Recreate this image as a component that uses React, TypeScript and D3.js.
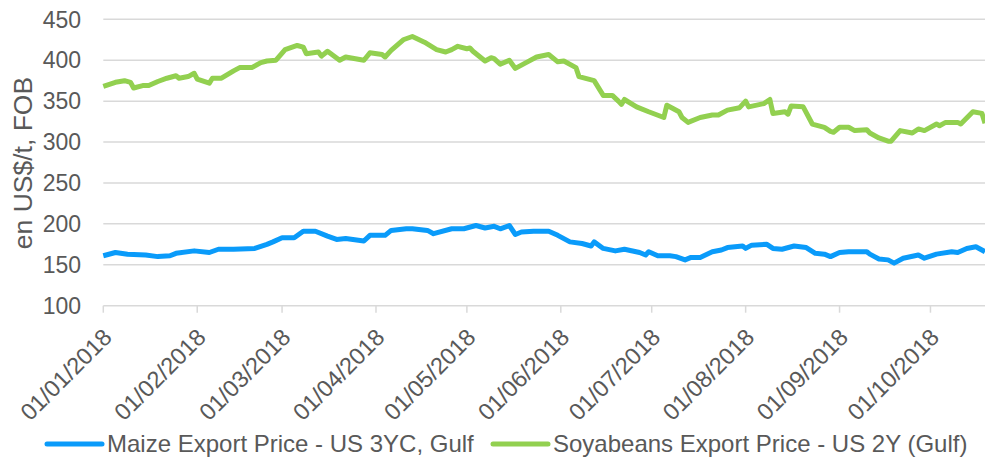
import React, { useEffect, useRef } from 'react';
import * as d3 from 'd3';

// Soybeans export price, US 2Y (Gulf), US$/t FOB
const soyDates = [
  '2018-01-01', '2018-01-05', '2018-01-08', '2018-01-10', '2018-01-11', '2018-01-14', '2018-01-16',
  '2018-01-19', '2018-01-22', '2018-01-25', '2018-01-26', '2018-01-29', '2018-01-31', '2018-02-01',
  '2018-02-05', '2018-02-06', '2018-02-09', '2018-02-13', '2018-02-15', '2018-02-19', '2018-02-22',
  '2018-02-24', '2018-02-27', '2018-03-02', '2018-03-06', '2018-03-08', '2018-03-09', '2018-03-13',
  '2018-03-14', '2018-03-16', '2018-03-20', '2018-03-22', '2018-03-28', '2018-03-30', '2018-04-03',
  '2018-04-04', '2018-04-06', '2018-04-10', '2018-04-13', '2018-04-17', '2018-04-21', '2018-04-24',
  '2018-04-26', '2018-04-28', '2018-05-01', '2018-05-02', '2018-05-03', '2018-05-07', '2018-05-09',
  '2018-05-10', '2018-05-12', '2018-05-15', '2018-05-17', '2018-05-21', '2018-05-24', '2018-05-28',
  '2018-05-31', '2018-06-02', '2018-06-06', '2018-06-07', '2018-06-12', '2018-06-15', '2018-06-18',
  '2018-06-20', '2018-06-21', '2018-06-22', '2018-06-26', '2018-06-30', '2018-07-05', '2018-07-06',
  '2018-07-10', '2018-07-11', '2018-07-13', '2018-07-17', '2018-07-21', '2018-07-23', '2018-07-26',
  '2018-07-30', '2018-08-01', '2018-08-02', '2018-08-07', '2018-08-09', '2018-08-10', '2018-08-14',
  '2018-08-15', '2018-08-16', '2018-08-20', '2018-08-23', '2018-08-27', '2018-08-29', '2018-08-30',
  '2018-09-01', '2018-09-04', '2018-09-06', '2018-09-10', '2018-09-11', '2018-09-14', '2018-09-17',
  '2018-09-18', '2018-09-21', '2018-09-25', '2018-09-27', '2018-09-29', '2018-10-03', '2018-10-04',
  '2018-10-06', '2018-10-10', '2018-10-11', '2018-10-15', '2018-10-18', '2018-10-19',
];
const soyValues = [
  368, 373, 375, 373, 366, 369, 369,
  374, 378, 381, 378, 380, 384, 377,
  372, 378, 378, 387, 391, 391, 397,
  399, 400, 413, 418, 416, 408, 410,
  405, 411, 400, 404, 400, 409, 407,
  404, 412, 425, 429, 422, 413, 410,
  413, 417, 414, 415, 411, 399, 403,
  402, 395, 400, 390, 398, 404, 407,
  398, 399, 391, 380, 375, 357, 357,
  350, 346, 352, 343, 337, 330, 345,
  337, 330, 324, 330, 333, 333, 339,
  342, 350, 343, 347, 352, 335, 337,
  334, 344, 343, 322, 318, 313, 312,
  318, 318, 314, 315, 311, 305, 301,
  301, 314, 311, 316, 314, 322, 320,
  324, 324, 322, 337, 335, 323,
];

// Maize export price, US 3YC, Gulf, US$/t FOB
const maizeDates = [
  '2018-01-01', '2018-01-05', '2018-01-09', '2018-01-15', '2018-01-19', '2018-01-23', '2018-01-25',
  '2018-01-31', '2018-02-05', '2018-02-08', '2018-02-13', '2018-02-20', '2018-02-24', '2018-02-26',
  '2018-03-01', '2018-03-05', '2018-03-08', '2018-03-12', '2018-03-16', '2018-03-19', '2018-03-22',
  '2018-03-28', '2018-03-30', '2018-04-04', '2018-04-06', '2018-04-11', '2018-04-13', '2018-04-18',
  '2018-04-20', '2018-04-26', '2018-04-30', '2018-05-04', '2018-05-07', '2018-05-10', '2018-05-12',
  '2018-05-15', '2018-05-17', '2018-05-19', '2018-05-23', '2018-05-28', '2018-05-31', '2018-06-04',
  '2018-06-08', '2018-06-11', '2018-06-12', '2018-06-15', '2018-06-19', '2018-06-22', '2018-06-27',
  '2018-06-29', '2018-06-30', '2018-07-03', '2018-07-07', '2018-07-09', '2018-07-12', '2018-07-14',
  '2018-07-17', '2018-07-21', '2018-07-24', '2018-07-26', '2018-07-31', '2018-08-01', '2018-08-03',
  '2018-08-08', '2018-08-10', '2018-08-13', '2018-08-17', '2018-08-21', '2018-08-24', '2018-08-27',
  '2018-08-29', '2018-09-01', '2018-09-04', '2018-09-10', '2018-09-11', '2018-09-14', '2018-09-17',
  '2018-09-19', '2018-09-22', '2018-09-27', '2018-09-29', '2018-10-03', '2018-10-08', '2018-10-10',
  '2018-10-13', '2018-10-16', '2018-10-19',
];
const maizeValues = [
  161, 165, 163, 162, 160, 161, 164,
  167, 165, 169, 169, 170, 175, 178,
  183, 183, 191, 191, 185, 181, 182,
  179, 186, 186, 192, 194, 194, 192,
  188, 194, 194, 198, 195, 197, 194,
  198, 187, 190, 191, 191, 186, 178,
  176, 173, 178, 170, 167, 169, 165,
  162, 166, 161, 161, 160, 156, 159,
  159, 166, 168, 171, 173, 170, 174,
  175, 170, 169, 173, 171, 164, 163,
  160, 165, 166, 166, 163, 157, 156,
  152, 158, 162, 158, 163, 166, 165,
  170, 172, 166,
];

const yTicks = [100, 150, 200, 250, 300, 350, 400, 450];
const monthTicks = [
  '2018-01-01', '2018-02-01', '2018-03-01', '2018-04-01', '2018-05-01',
  '2018-06-01', '2018-07-01', '2018-08-01', '2018-09-01', '2018-10-01',
];
const seriesNames = ['Maize Export Price - US 3YC, Gulf', 'Soyabeans Export Price - US 2Y (Gulf)'];
const axisStart = '2018-01-01';
const axisEnd = '2018-10-19';

const BLUE = '#0A9BFA';
const GREEN = '#92D050';
const TEXT = '#595959';
const FONT = '"Liberation Sans", Arial, sans-serif';

export default function App() {
  const ref = useRef<SVGSVGElement>(null);

  useEffect(() => {
    const svg = d3.select(ref.current);
    svg.selectAll('*').remove();

    const width = 985;
    const height = 457;
    const margin = { top: 19.3, right: 0, bottom: 151.3, left: 103.3 };
    const parse = d3.timeParse('%Y-%m-%d');

    const x = d3
      .scaleTime()
      .domain([parse(axisStart)!, parse(axisEnd)!])
      .range([margin.left, width - margin.right]);

    const y = d3
      .scaleLinear()
      .domain([100, 450])
      .range([height - margin.bottom, margin.top]);

    // gridlines
    svg
      .append('g')
      .selectAll('line')
      .data(yTicks)
      .join('line')
      .attr('x1', margin.left)
      .attr('x2', width)
      .attr('y1', (d) => y(d))
      .attr('y2', (d) => y(d))
      .attr('stroke', '#D9D9D9')
      .attr('stroke-width', 1.5);

    // y tick labels
    svg
      .append('g')
      .selectAll('text')
      .data(yTicks)
      .join('text')
      .attr('x', 81)
      .attr('y', (d) => y(d))
      .attr('dy', '0.36em')
      .attr('text-anchor', 'end')
      .attr('font-size', 23)
      .attr('font-family', FONT)
      .attr('fill', TEXT)
      .text((d) => d);

    // x axis tick marks and labels
    const xa = svg.append('g');
    xa.selectAll('line')
      .data(monthTicks)
      .join('line')
      .attr('x1', (d) => x(parse(d)!))
      .attr('x2', (d) => x(parse(d)!))
      .attr('y1', y(100))
      .attr('y2', y(100) + 7)
      .attr('stroke', '#D9D9D9')
      .attr('stroke-width', 1.5);

    const fmt = d3.timeFormat('%d/%m/%Y');
    xa.selectAll('text')
      .data(monthTicks)
      .join('text')
      .attr('transform', (d) => `translate(${x(parse(d)!) + 10},${y(100) + 33}) rotate(-45)`)
      .attr('text-anchor', 'end')
      .attr('font-size', 23.5)
      .attr('font-family', FONT)
      .attr('fill', TEXT)
      .text((d) => fmt(parse(d)!));

    // y axis title
    svg
      .append('text')
      .attr('transform', `translate(32,163) rotate(-90)`)
      .attr('text-anchor', 'middle')
      .attr('font-size', 26.5)
      .attr('font-family', FONT)
      .attr('fill', TEXT)
      .text('en US$/t, FOB');

    const line = d3
      .line<[Date, number]>()
      .x((d) => x(d[0]))
      .y((d) => y(d[1]));

    const soy = soyDates.map((d, i) => [parse(d)!, soyValues[i]] as [Date, number]);
    const maize = maizeDates.map((d, i) => [parse(d)!, maizeValues[i]] as [Date, number]);

    svg
      .append('path')
      .datum(maize)
      .attr('fill', 'none')
      .attr('stroke', BLUE)
      .attr('stroke-width', 5)
      .attr('stroke-linejoin', 'round')
      .attr('d', line);

    svg
      .append('path')
      .datum(soy)
      .attr('fill', 'none')
      .attr('stroke', GREEN)
      .attr('stroke-width', 5)
      .attr('stroke-linejoin', 'round')
      .attr('d', line);

    // legend
    const legend = [
      { name: seriesNames[0], color: BLUE, x: 47 },
      { name: seriesNames[1], color: GREEN, x: 493 },
    ];
    const lg = svg.append('g').selectAll('g').data(legend).join('g');
    lg.append('line')
      .attr('x1', (d) => d.x)
      .attr('x2', (d) => d.x + 55)
      .attr('y1', 444)
      .attr('y2', 444)
      .attr('stroke', (d) => d.color)
      .attr('stroke-width', 5)
      .attr('stroke-linecap', 'round');
    lg.append('text')
      .attr('x', (d) => d.x + 60)
      .attr('y', 452)
      .attr('font-size', 24)
      .attr('font-family', FONT)
      .attr('fill', TEXT)
      .text((d) => d.name);
  }, []);

  return (
    <svg
      ref={ref}
      width={985}
      height={457}
      style={{ position: 'absolute', left: 0, top: 0, background: '#fff' }}
    />
  );
}
